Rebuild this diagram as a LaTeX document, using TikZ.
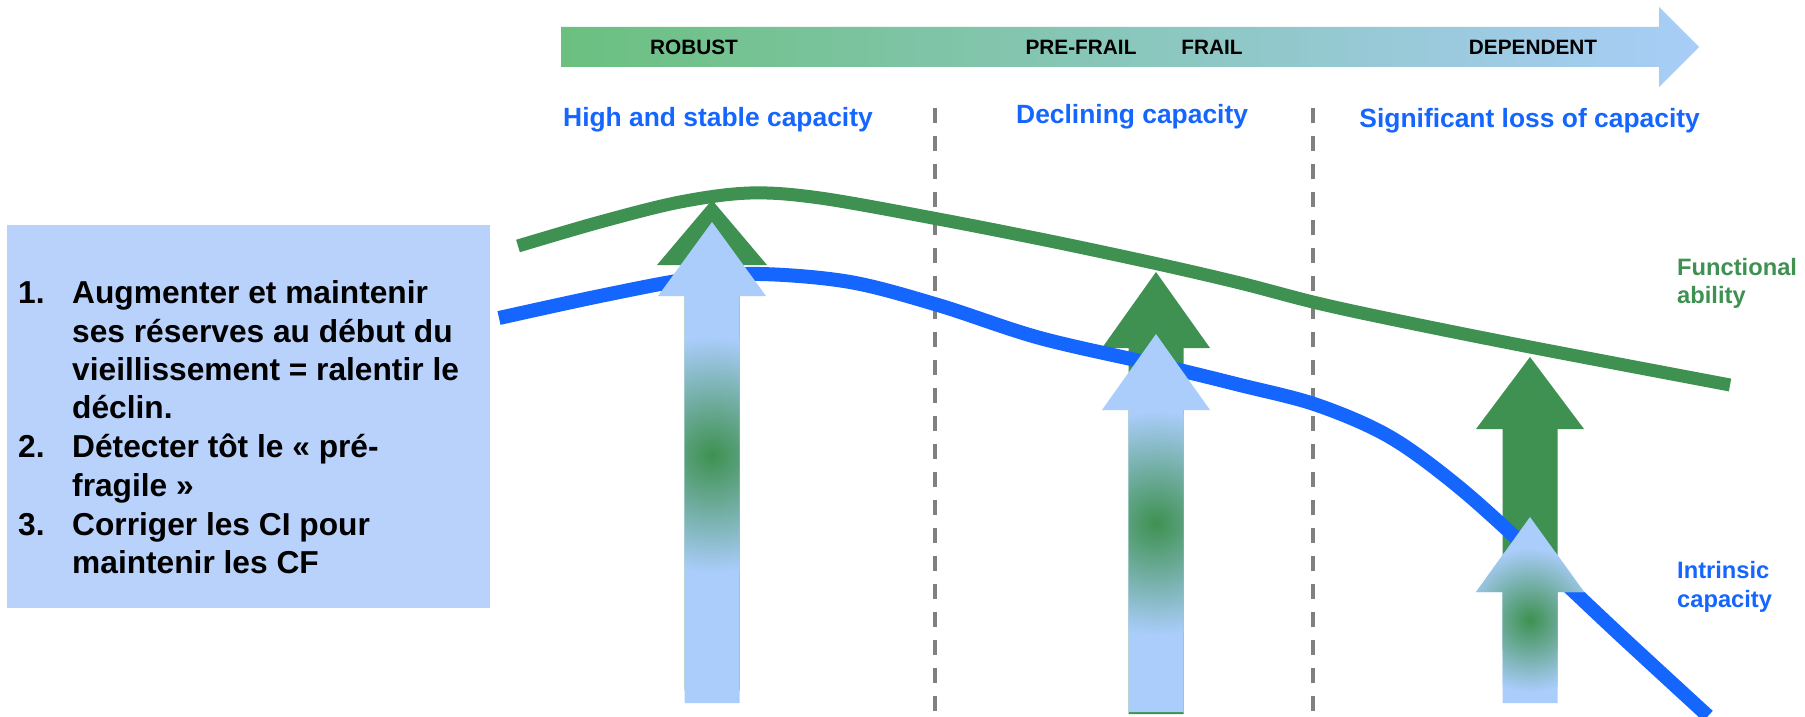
\documentclass[tikz,border=0pt]{standalone}
\usepackage{fontspec}
\setmainfont{Liberation Sans}
\definecolor{fgreen}{HTML}{3E9151}
\definecolor{iblue}{HTML}{1565FF}
\definecolor{lblue}{HTML}{AACDFB}
\definecolor{boxblue}{HTML}{B9D2FC}
\definecolor{tgreen}{HTML}{6BC07F}
\definecolor{tblue}{HTML}{A8CDF8}
\definecolor{dgray}{HTML}{808080}
\newcommand\uparr[6]{(#1,#2) -- ({#1+#5},#3) -- ({#1+#6},#3) -- ({#1+#6},#4) -- ({#1-#6},#4) -- ({#1-#6},#3) -- ({#1-#5},#3) -- cycle}
\newcommand\gradarr[6]{%
  \fill[lblue] \uparr{#1}{#2}{#3}{#4}{54}{27.5};
  \begin{scope}
    \clip \uparr{#1}{#2}{#3}{#4}{54}{27.5};
    \shade[inner color=fgreen, outer color=lblue] (#1,#5) circle (#6);
  \end{scope}}
\begin{document}
\begin{tikzpicture}[x=1pt,y=-1pt,
  stage/.style={font=\fontsize{20.8}{24}\selectfont\bfseries, text=black, anchor=base, inner sep=0},
  title/.style={font=\fontsize{26.4}{31}\selectfont\bfseries, text=iblue, inner sep=0},
  boxline/.style={font=\fontsize{31.7}{38}\selectfont\bfseries, text=black, anchor=base west, inner sep=0},
  sidelab/.style={font=\fontsize{23.7}{28}\selectfont\bfseries, anchor=base west, inner sep=0},
  divider/.style={dgray, line width=4pt, dash pattern=on 15pt off 13pt}]
\useasboundingbox (0,0) rectangle (1805,717);
\fill[white] (0,0) rectangle (1805,717);

% top stage arrow
\shade[left color=tgreen, right color=tblue] (561,27) -- (1659,27) -- (1659,7) -- (1699,47) -- (1659,87) -- (1659,67) -- (561,67) -- cycle;
\node[stage] (robust) at (694,55) {ROBUST};
\node[stage] (prefrail) at (1081,55) {PRE-FRAIL};
\node[stage] (frail) at (1212,55) {FRAIL};
\node[stage] (dependent) at (1533,55) {DEPENDENT};

% titles
\node[title, anchor=base west] (t1) at (563,126) {High and stable capacity};
\node[title, anchor=base west] (t2) at (1016,123) {Declining capacity};
\node[title, anchor=base east] (t3) at (1700,128) {Significant loss of capacity};

% dividers
\coordinate (d1a) at (935,108); \coordinate (d1b) at (935,717);
\coordinate (d2a) at (1313,108); \coordinate (d2b) at (1313,717);
\draw[divider] (d1a) -- (d1b);
\draw[divider] (d2a) -- (d2b);

% left box
\fill[boxblue] (7,225) rectangle (490,608);
\node[boxline] (n1) at (18,303) {1.};
\node[boxline] (l1) at (72,303) {Augmenter et maintenir};
\node[boxline] (l2) at (72,342) {ses réserves au début du};
\node[boxline] (l3) at (72,380) {vieillissement = ralentir le};
\node[boxline] (l4) at (72,418) {déclin.};
\node[boxline] (n2) at (18,457) {2.};
\node[boxline] (l5) at (72,457) {Détecter tôt le « pré-};
\node[boxline] (l6) at (72,496) {fragile »};
\node[boxline] (n3) at (18,535) {3.};
\node[boxline] (l7) at (72,535) {Corriger les CI pour};
\node[boxline] (l8) at (72,573) {maintenir les CF};

% green arrows (functional ability)
\fill[fgreen] \uparr{712}{200}{265}{690}{55}{27.5};
\fill[fgreen] \uparr{1156}{272}{348}{714}{54}{27.5};
\fill[fgreen] \uparr{1530}{357}{429}{650}{54}{27.5};

% curves
\draw[fgreen, line width=13pt] plot[smooth, tension=0.55] coordinates {(518,246) (600,222) (680,202) (750,193) (820,198) (938,219) (1050,241) (1158,264) (1240,283) (1317,303) (1400,321) (1530,347) (1730,385)};
\draw[iblue, line width=14pt] plot[smooth, tension=0.55] coordinates {(499,318) (600,296) (690,279) (760,274) (850,282) (938,305) (1040,338) (1158,365) (1240,385) (1317,405) (1390,437) (1460,488) (1540,560) (1620,635) (1708,716)};

% blue gradient arrows (intrinsic capacity)
\gradarr{712}{222}{296}{703}{455}{118}
\gradarr{1156}{334}{410}{712}{523}{112}
\gradarr{1530}{517}{592}{703}{620}{72}

% side labels
\node[sidelab, text=fgreen] (fa1) at (1677,275) {Functional};
\node[sidelab, text=fgreen] (fa2) at (1677,303) {ability};
\node[sidelab, text=iblue] (ic1) at (1677,578) {Intrinsic};
\node[sidelab, text=iblue] (ic2) at (1677,607) {capacity};
\end{tikzpicture}
\end{document}
